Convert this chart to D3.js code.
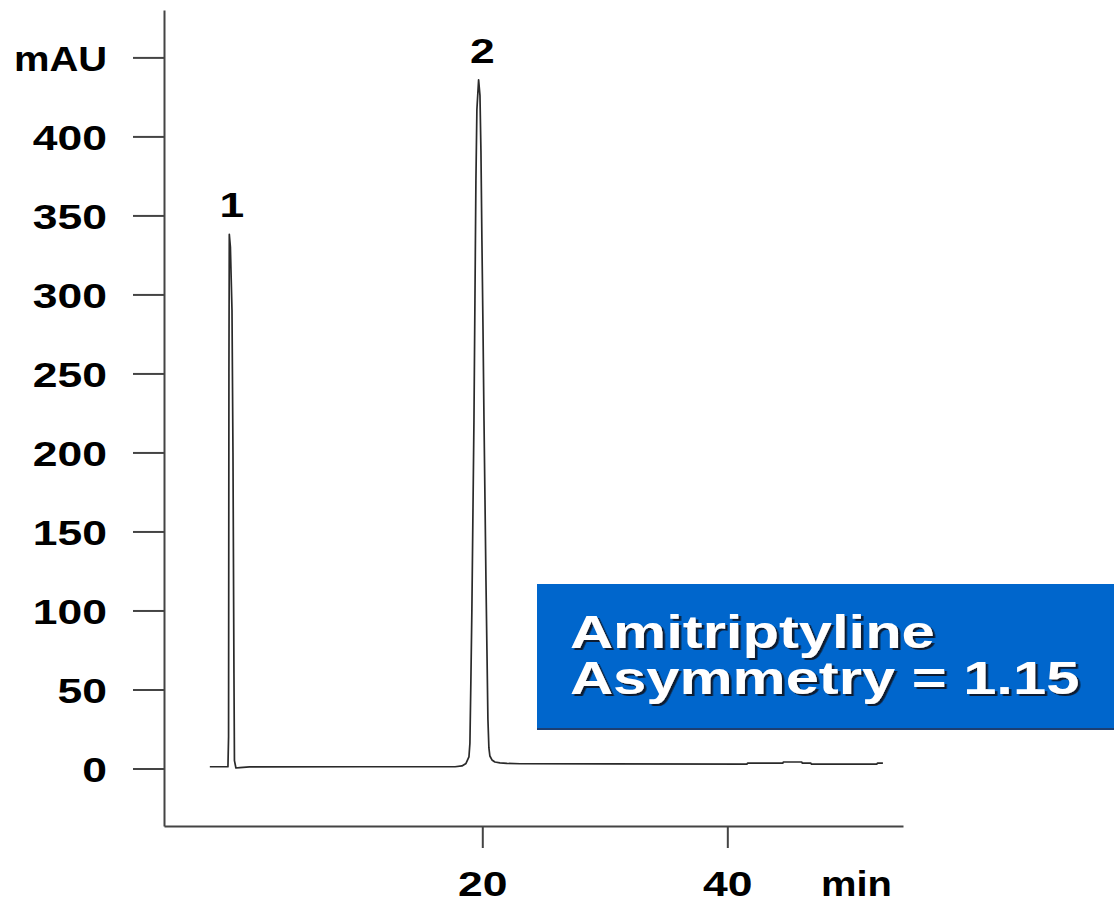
<!DOCTYPE html>
<html>
<head>
<meta charset="utf-8">
<script src="https://cdn.jsdelivr.net/npm/d3@7"></script>
<style>
  body { margin: 0; background: #fff; }
  text { font-family: "Liberation Sans", Arial, sans-serif; font-weight: bold; }
</style>
</head>
<body>
<script>
// retention time (min) and absorbance (mAU)
var times = [-2.24, -0.76, -0.71, -0.68, -0.65, -0.56, -0.43, -0.35, -0.27, -0.23, -0.11, 0.21, 1.0,
    10.0, 17.78, 18.34, 18.67, 18.91, 18.99, 19.07, 19.15, 19.23, 19.32, 19.40, 19.48, 19.56, 19.70,
    19.81, 19.89, 19.97, 20.06, 20.14, 20.22, 20.30, 20.38, 20.46, 20.54, 20.62, 20.79, 21.03,
    21.44, 22.01, 23.08, 30.0, 41.61, 41.65, 44.53, 44.57, 46.08, 46.12, 46.82, 46.86, 52.21, 52.25, 52.70];
var mau = [1.1, 1.1, 20, 250, 338, 330, 290, 200, 60, 5, 0.3, 0.6, 1.0,
    1.1, 1.1, 1.6, 3.2, 7.3, 16, 56, 100, 157, 220, 296, 372, 417, 435.8,
    426, 391, 334, 277, 220, 170, 119, 75, 31, 13, 7.9, 5.4, 4.1,
    3.5, 3.2, 3.0, 2.9, 2.8, 3.4, 3.4, 4.1, 4.1, 3.4, 3.4, 2.8, 2.8, 3.4, 3.4];

var yTicks = [0, 50, 100, 150, 200, 250, 300, 350, 400, 450];
var yUnit = "mAU";
var xTicks = [20, 40];
var xUnit = "min";
var peakLabels = ["1", "2"];
var peakTimes = [-0.6, 19.85];
var peakHeights = [338, 436];
var boxLines = ["Amitriptyline", "Asymmetry = 1.15"];

var W = 1114, H = 905;
var stretch = 1.27; // lettering in the original is widened

var svg = d3.select("body").append("svg")
    .attr("width", W)
    .attr("height", H);

var defs = svg.append("defs");
defs.append("filter")
    .attr("id", "shadow")
    .attr("x", "-5%").attr("y", "-20%")
    .attr("width", "110%").attr("height", "140%")
    .append("feDropShadow")
    .attr("dx", 2).attr("dy", 2)
    .attr("stdDeviation", 0.4)
    .attr("flood-color", "#0a1a33")
    .attr("flood-opacity", 1);

var x = d3.scaleLinear().domain([-5.98, 54.34]).range([164, 903]);
var y = d3.scaleLinear().domain([-36.4, 480]).range([826, 10]);

// y axis
var yAxis = svg.append("g")
    .attr("transform", "translate(164,0)")
    .call(d3.axisLeft(y).tickValues(yTicks).tickSize(31).tickSizeOuter(0)
        .tickFormat(function (d) { return d === 450 ? yUnit : d; }));
yAxis.select(".domain").attr("stroke", "#444").attr("stroke-width", 2);
yAxis.selectAll(".tick line").attr("stroke", "#444").attr("stroke-width", 2);
yAxis.selectAll(".tick text")
    .each(function (d) {
        var s = d === 450 ? 1.14 : stretch;
        d3.select(this)
            .attr("x", -57 / s)
            .attr("transform", "scale(" + s + ",1)");
    })
    .attr("dy", "0.36em")
    .attr("fill", "#000")
    .style("font-size", "35px");

// x axis
var xAxis = svg.append("g")
    .attr("transform", "translate(0,826)")
    .call(d3.axisBottom(x).tickValues(xTicks).tickSize(22).tickSizeOuter(0));
xAxis.select(".domain").attr("stroke", "#444").attr("stroke-width", 2);
xAxis.selectAll(".tick line").attr("stroke", "#444").attr("stroke-width", 2);
xAxis.selectAll(".tick text")
    .attr("y", 70)
    .attr("dy", 0)
    .attr("transform", "scale(" + stretch + ",1)")
    .attr("fill", "#000")
    .style("font-size", "35px");

svg.append("text")
    .attr("transform", "translate(821,896) scale(1.14,1)")
    .style("font-size", "35px")
    .text(xUnit);

// chromatogram trace
var line = d3.line()
    .x(function (d, i) { return x(times[i]); })
    .y(function (d) { return y(d); });

svg.append("path")
    .datum(mau)
    .attr("d", line)
    .attr("fill", "none")
    .attr("stroke", "#2a2a2a")
    .attr("stroke-width", 1.7)
    .attr("stroke-linejoin", "round");

// peak numbers
svg.selectAll(".peak")
    .data(peakLabels)
    .enter().append("text")
    .attr("class", "peak")
    .attr("text-anchor", "middle")
    .attr("transform", function (d, i) {
        return "translate(" + (x(peakTimes[i]) + 2) + "," + (y(peakHeights[i]) - 17) + ") scale(" + stretch + ",1)";
    })
    .style("font-size", "35px")
    .text(function (d) { return d; });

// blue note box
var box = svg.append("g").attr("transform", "translate(537,584)");
box.append("rect")
    .attr("width", W - 537)
    .attr("height", 146)
    .attr("fill", "#0066cc");
box.append("rect")
    .attr("y", 144)
    .attr("width", W - 537)
    .attr("height", 2)
    .attr("fill", "#1c3f73");

box.append("text")
    .attr("transform", "translate(33,64) scale(" + stretch + ",1)")
    .attr("fill", "#fff")
    .attr("filter", "url(#shadow)")
    .style("font-size", "47px")
    .selectAll("tspan")
    .data(boxLines)
    .enter().append("tspan")
    .attr("x", 0)
    .attr("dy", function (d, i) { return i ? 46 : 0; })
    .text(function (d) { return d; });
</script>
</body>
</html>
